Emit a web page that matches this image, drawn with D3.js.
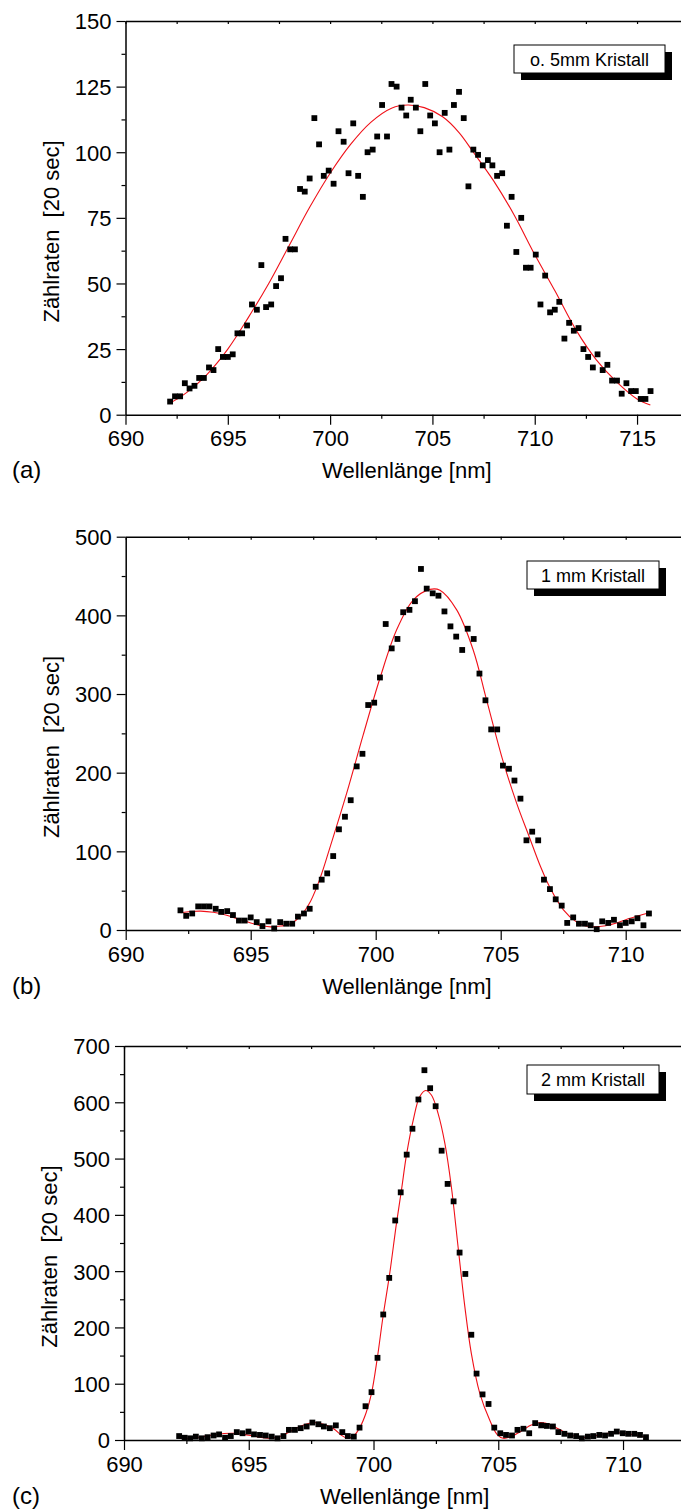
<!DOCTYPE html>
<html>
<head>
<meta charset="utf-8">
<script src="https://cdn.jsdelivr.net/npm/d3@7"></script>
<style>
  html, body { margin: 0; padding: 0; background: #fff; }
  svg { display: block; font-family: "Liberation Sans", Arial, Helvetica, sans-serif; }
</style>
</head>
<body>
<svg id="chart" width="681" height="1512"></svg>
<script>
// ---- tick values ----
const xTicksMajor = [690, 695, 700, 705, 710, 715];
const xTicksMinor = [692.5, 697.5, 702.5, 707.5, 712.5, 717.5];
const yTicksA = [0, 25, 50, 75, 100, 125, 150];
const yTicksAMinor = [12.5, 37.5, 62.5, 87.5, 112.5, 137.5];
const yTicksB = [0, 100, 200, 300, 400, 500];
const yTicksBMinor = [50, 150, 250, 350, 450];
const yTicksC = [0, 100, 200, 300, 400, 500, 600, 700];
const yTicksCMinor = [50, 150, 250, 350, 450, 550, 650];

// ---- (a) o. 5mm Kristall : measured counts ----
const wlA = [692.18, 692.42, 692.67, 692.9, 693.13, 693.37, 693.6, 693.83, 694.08, 694.3,
  694.53, 694.76, 695.0, 695.24, 695.47, 695.7, 695.94, 696.18, 696.42, 696.64,
  696.87, 697.12, 697.36, 697.6, 697.82, 698.05, 698.28, 698.53, 698.76, 699.0,
  699.23, 699.46, 699.69, 699.93, 700.17, 700.41, 700.66, 700.9, 701.13, 701.37,
  701.6, 701.83, 702.08, 702.3, 702.54, 702.78, 703.0, 703.25, 703.49, 703.72,
  703.94, 704.19, 704.41, 704.65, 704.89, 705.12, 705.35, 705.6, 705.83, 706.05,
  706.3, 706.53, 706.76, 707.0, 707.23, 707.46, 707.71, 707.93, 708.16, 708.41,
  708.64, 708.87, 709.1, 709.34, 709.57, 709.8, 710.05, 710.28, 710.51, 710.75,
  710.98, 711.2, 711.45, 711.68, 711.91, 712.14, 712.38, 712.61, 712.84, 713.07,
  713.32, 713.55, 713.78, 714.02, 714.25, 714.48, 714.71, 714.94, 715.18, 715.41, 715.66];
const countsA = [5, 7, 7, 12, 10, 11, 14, 14, 18, 17,
  25, 22, 22, 23, 31, 31, 34, 42, 40, 57,
  41, 42, 49, 52, 67, 63, 63, 86, 85, 90,
  113, 103, 91, 93, 88, 108, 104, 92, 111, 91,
  83, 100, 101, 106, 118, 106, 126, 125, 117, 114,
  120, 117, 108, 126, 114, 111, 100, 115, 101, 118,
  123, 113, 87, 101, 99, 95, 97, 95, 91, 92,
  72, 83, 62, 75, 56, 56, 61, 42, 53, 39,
  40, 43, 29, 35, 32, 33, 25, 22, 18, 23,
  17, 19, 13, 13, 8, 12, 9, 9, 6, 6, 9];
// fitted curve (a)
const fitWlA = [692.2, 693, 694, 695, 696, 697, 698, 699, 700, 701, 702, 703, 703.8,
  704.6, 705.5, 706.3, 707, 708, 709, 710, 711, 712, 713, 714, 715, 715.65];
const fitA = [4.5, 8.5, 15.5, 25, 37, 50, 64.5, 79, 92, 103, 111.5, 116.8, 118,
  117, 113.5, 107.5, 100, 89, 76, 61, 47, 32.5, 21, 12.5, 6, 3.7];

// ---- (b) 1 mm Kristall ----
const wlB = [692.19, 692.42, 692.66, 692.9, 693.13, 693.35, 693.6, 693.82, 694.06, 694.29,
  694.53, 694.76, 695.0, 695.24, 695.47, 695.71, 695.94, 696.18, 696.42, 696.66,
  696.89, 697.13, 697.36, 697.6, 697.84, 698.06, 698.3, 698.53, 698.77, 699.0,
  699.24, 699.47, 699.7, 699.94, 700.17, 700.4, 700.64, 700.87, 701.1, 701.35,
  701.57, 701.81, 702.04, 702.28, 702.51, 702.75, 702.99, 703.22, 703.46, 703.68,
  703.92, 704.15, 704.39, 704.62, 704.86, 705.09, 705.33, 705.55, 705.79, 706.03,
  706.26, 706.5, 706.73, 706.97, 707.2, 707.44, 707.66, 707.9, 708.13, 708.37,
  708.6, 708.84, 709.06, 709.3, 709.53, 709.77, 710.0, 710.24, 710.47, 710.71, 710.93];
const countsB = [25, 18, 21, 30, 30, 30, 27, 23, 24, 19,
  12, 12, 16, 10, 5, 11, 2, 10, 8, 8,
  17, 21, 27, 55, 64, 72, 94, 128, 144, 165,
  208, 224, 286, 289, 321, 389, 358, 370, 404, 407,
  418, 459, 434, 428, 425, 405, 386, 373, 356, 383,
  370, 326, 292, 255, 255, 209, 205, 190, 167, 114,
  125, 114, 64, 52, 39, 31, 9, 16, 8, 8,
  6, 1, 11, 9, 13, 6, 9, 11, 15, 6, 21];
const fitWlB = [692.2, 692.6, 693.0, 693.5, 694.0, 694.5, 695.0, 695.5, 695.8, 696.2,
  696.6, 697.0, 697.4, 697.8, 698.2, 698.84, 699.5, 700.17, 700.83, 701.5,
  702.17, 702.57, 703.24, 703.9, 704.44, 705.1, 705.64, 706.14, 706.6, 707.0,
  707.5, 708.0, 708.4, 708.75, 709.2, 709.6, 710.0, 710.5, 710.93];
const fitB = [22, 23.5, 24, 22.5, 19, 14, 9, 5, 4, 5,
  8, 18, 37, 68, 108, 174, 248, 320, 381, 419.5,
  433, 432, 407, 356, 292, 214, 161, 118.6, 80, 52,
  26, 11, 5, 4, 5.5, 8.5, 13, 18, 22];

// ---- (c) 2 mm Kristall ----
const wlC = [692.21, 692.43, 692.65, 692.88, 693.12, 693.35, 693.59, 693.81, 694.05, 694.28,
  694.52, 694.75, 694.99, 695.21, 695.45, 695.68, 695.92, 696.15, 696.39, 696.61,
  696.85, 697.08, 697.32, 697.55, 697.79, 698.01, 698.25, 698.49, 698.75, 698.97,
  699.21, 699.44, 699.68, 699.92, 700.16, 700.39, 700.63, 700.87, 701.09, 701.33,
  701.56, 701.8, 702.04, 702.27, 702.49, 702.73, 702.97, 703.21, 703.45, 703.68,
  703.92, 704.13, 704.37, 704.61, 704.84, 705.08, 705.31, 705.55, 705.77, 706.01,
  706.24, 706.48, 706.72, 706.95, 707.19, 707.41, 707.65, 707.88, 708.12, 708.35,
  708.59, 708.81, 709.05, 709.28, 709.52, 709.75, 709.99, 710.21, 710.45, 710.68, 710.92];
const countsC = [7, 4, 3, 6, 3, 5, 8, 10, 4, 7,
  14, 12, 15, 10, 9, 8, 6, 3, 7, 18,
  18, 21, 24, 31, 28, 24, 21, 26, 14, 7,
  6, 22, 60, 85, 146, 223, 288, 390, 440, 507,
  553, 605, 657, 625, 593, 514, 455, 424, 333, 295,
  187, 118, 81, 64, 22, 12, 9, 8, 18, 20,
  12, 30, 26, 25, 24, 14, 11, 8, 7, 3,
  6, 7, 9, 8, 11, 15, 12, 11, 11, 9, 5];
const fitWlC = [692.2, 692.6, 693.0, 693.5, 694.0, 694.4, 694.8, 695.2, 695.6, 695.9,
  696.3, 696.7, 697.1, 697.6, 698.0, 698.4, 698.7, 698.95, 699.2, 699.45,
  699.7, 699.92, 700.15, 700.38, 700.65, 700.92, 701.12, 701.32, 701.59, 701.85,
  702.09, 702.32, 702.59, 702.86, 703.12, 703.39, 703.66, 703.92, 704.26, 704.66,
  704.95, 705.2, 705.6, 706.0, 706.3, 706.7, 707.1, 707.4, 707.8, 708.25,
  708.6, 709.0, 709.4, 709.8, 710.2, 710.6, 710.93];
const fitC = [3, 3, 5, 8.5, 11.5, 12, 10, 7, 4, 3,
  7, 16, 25, 31, 28, 20, 9, 3, 7, 22,
  48, 83, 145, 219, 296, 385, 444, 506, 568, 610,
  621, 613, 580, 527, 450, 343, 237, 154, 83, 35,
  10, 3, 8, 18, 26, 31, 27, 20, 11, 4.5,
  5, 9, 12, 13, 11, 8, 5];

const svg = d3.select("#chart");
const FONT = 22;

function drawPanel(o) {
  const g = svg.append("g");
  const x = d3.scaleLinear().domain([690, o.xMax]).range([o.left, o.right]);
  const y = d3.scaleLinear().domain([0, o.yMax]).range([o.bottom, o.top]);
  const inX = v => v <= o.xMax;
  const major = xTicksMajor.filter(inX);
  const minor = xTicksMinor.filter(inX);

  // fitted curve
  const line = d3.line()
    .x(d => x(d[0]))
    .y(d => y(d[1]))
    .curve(d3.curveCatmullRom.alpha(0.5));
  g.append("path")
    .datum(d3.zip(o.fitX, o.fitY))
    .attr("fill", "none")
    .attr("stroke", "#f01018")
    .attr("stroke-width", 1.1)
    .attr("d", line);

  // measured points
  const s = 5.8;
  g.append("g").selectAll("rect")
    .data(d3.zip(o.wl, o.counts))
    .join("rect")
    .attr("x", d => x(d[0]) - s / 2)
    .attr("y", d => y(d[1]) - s / 2)
    .attr("width", s)
    .attr("height", s)
    .attr("fill", "#000");

  const styleAxis = sel => {
    sel.attr("font-family", null).attr("font-size", null);
    sel.selectAll("path.domain").attr("stroke", "#000").attr("stroke-width", 1.5);
    sel.selectAll(".tick line").attr("stroke", "#000").attr("stroke-width", 1.2);
    sel.selectAll(".tick text").attr("fill", "#000").style("font-size", FONT + "px");
  };

  // bottom axis: major with labels, minor without
  g.append("g")
    .attr("transform", `translate(0,${o.bottom})`)
    .call(d3.axisBottom(x).tickValues(minor).tickSize(4).tickFormat(""))
    .call(styleAxis)
    .call(a => a.select(".domain").remove());
  g.append("g")
    .attr("transform", `translate(0,${o.bottom})`)
    .call(d3.axisBottom(x).tickValues(major).tickSize(10).tickSizeOuter(0)
      .tickPadding(6).tickFormat(d3.format("d")))
    .call(styleAxis);

  // top axis: short inward ticks
  g.append("g")
    .attr("transform", `translate(0,${o.top})`)
    .call(d3.axisTop(x).tickValues(major.concat(minor)).tickSize(-3)
      .tickSizeOuter(0).tickFormat(""))
    .call(styleAxis);

  // left axis
  g.append("g")
    .attr("transform", `translate(${o.left},0)`)
    .call(d3.axisLeft(y).tickValues(o.yMinor).tickSize(4).tickFormat(""))
    .call(styleAxis)
    .call(a => a.select(".domain").remove());
  g.append("g")
    .attr("transform", `translate(${o.left},0)`)
    .call(d3.axisLeft(y).tickValues(o.yTicks).tickSize(9).tickSizeOuter(0)
      .tickPadding(5).tickFormat(d3.format("d")))
    .call(styleAxis)
    .call(a => a.selectAll(".tick text").attr("dy", "0.36em"));

  // axis titles
  g.append("text")
    .attr("x", (o.left + o.right) / 2)
    .attr("y", o.bottom + 63.5)
    .attr("text-anchor", "middle")
    .style("font-size", FONT + "px")
    .text("Wellenlänge [nm]");
  const yMid = (o.top + o.bottom) / 2 + 13.6;
  g.append("text")
    .attr("transform", `translate(${o.left - 67},${yMid}) rotate(-90)`)
    .attr("text-anchor", "middle")
    .style("font-size", FONT + "px")
    .style("white-space", "pre")
    .text("Zählraten  [20 sec]");

  // panel tag
  g.append("text")
    .attr("x", 12)
    .attr("y", o.bottom + 63.5)
    .style("font-size", "24px")
    .text(o.tag);

  // legend box with drop shadow
  const L = o.legend;
  g.append("rect")
    .attr("x", L.x + 7).attr("y", L.y + 7)
    .attr("width", L.w).attr("height", L.h)
    .attr("fill", "#000");
  g.append("rect")
    .attr("x", L.x).attr("y", L.y)
    .attr("width", L.w).attr("height", L.h)
    .attr("fill", "#fff").attr("stroke", "#000").attr("stroke-width", 1);
  g.append("text")
    .attr("x", L.x + L.w / 2)
    .attr("y", L.y + 21)
    .attr("text-anchor", "middle")
    .style("font-size", "18px")
    .text(o.legendText);
}

drawPanel({
  left: 125.5, right: 688.2, top: 21, bottom: 414.7, xMax: 717.5, yMax: 150,
  yTicks: yTicksA, yMinor: yTicksAMinor,
  wl: wlA, counts: countsA, fitX: fitWlA, fitY: fitA,
  tag: "(a)", legendText: "o. 5mm Kristall",
  legend: { x: 514, y: 45, w: 151, h: 28 }
});
drawPanel({
  left: 125.7, right: 688.2, top: 536.7, bottom: 930, xMax: 712.5, yMax: 500,
  yTicks: yTicksB, yMinor: yTicksBMinor,
  wl: wlB, counts: countsB, fitX: fitWlB, fitY: fitB,
  tag: "(b)", legendText: "1 mm Kristall",
  legend: { x: 527, y: 561, w: 132, h: 28 }
});
drawPanel({
  left: 124, right: 685.4, top: 1046, bottom: 1440, xMax: 712.5, yMax: 700,
  yTicks: yTicksC, yMinor: yTicksCMinor,
  wl: wlC, counts: countsC, fitX: fitWlC, fitY: fitC,
  tag: "(c)", legendText: "2 mm Kristall",
  legend: { x: 527, y: 1065, w: 132, h: 29 }
});
</script>
</body>
</html>
